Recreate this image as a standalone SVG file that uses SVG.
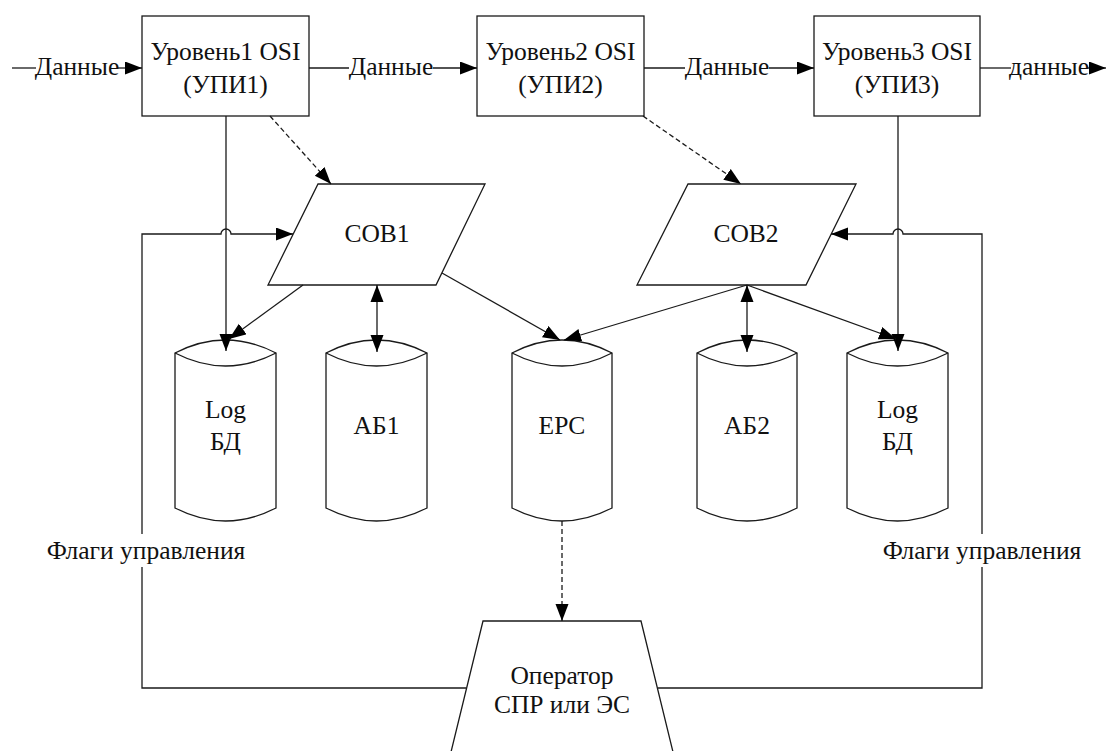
<svg xmlns="http://www.w3.org/2000/svg" width="1108" height="751" viewBox="0 0 1108 751">
<style>
  .shape { fill: #ffffff; stroke: #1a1a1a; stroke-width: 1.3; }
  .ln { fill: none; stroke: #1a1a1a; stroke-width: 1.3; }
  .dash { stroke-dasharray: 5 3; }
  .t { font-family: "Liberation Serif", "DejaVu Serif", serif; font-size: 25.5px; fill: #111; text-anchor: middle; }
</style>
<defs>
  <marker id="arr" markerUnits="userSpaceOnUse" markerWidth="18" markerHeight="14" refX="17" refY="6.5" orient="auto">
    <path d="M0,0 L17,6.5 L0,13 z" fill="#000"/>
  </marker>
  <marker id="arrS" markerUnits="userSpaceOnUse" markerWidth="18" markerHeight="14" refX="0" refY="6.5" orient="auto">
    <path d="M17,0 L0,6.5 L17,13 z" fill="#000"/>
  </marker>
</defs>

<g id="box1">
  <rect class="shape" x="142" y="16" width="167" height="100"/>
  <text class="t" x="225.5" y="60">Уровень1 OSI</text>
  <text class="t" x="225.5" y="93">(УПИ1)</text>
</g>
<g id="box2">
  <rect class="shape" x="477" y="16" width="167" height="100"/>
  <text class="t" x="560.5" y="60">Уровень2 OSI</text>
  <text class="t" x="560.5" y="93">(УПИ2)</text>
</g>
<g id="box3">
  <rect class="shape" x="814" y="16" width="166" height="100"/>
  <text class="t" x="897" y="60">Уровень3 OSI</text>
  <text class="t" x="897" y="93">(УПИ3)</text>
</g>

<g id="data-labels">
  <text class="t" x="77" y="75">Данные</text>
  <text class="t" x="391" y="75">Данные</text>
  <text class="t" x="727" y="75">Данные</text>
  <text class="t" x="1049" y="75">данные</text>
</g>

<g id="cob1">
  <path class="shape" d="M318,184 H485 L436,285 H268 Z"/>
  <text class="t" x="377" y="242">COB1</text>
</g>
<g id="cob2">
  <path class="shape" d="M688,184 H856 L806,285 H637 Z"/>
  <text class="t" x="746" y="242">COB2</text>
</g>

<g id="db-log1">
  <path class="shape" d="M175,353 Q225.5,327 276,353 V508 Q225.5,534 175,508 Z"/>
  <path class="ln" d="M175,353 Q225.5,379 276,353"/>
  <text class="t" x="225.5" y="418">Log</text>
  <text class="t" x="225.5" y="450">БД</text>
</g>
<g id="db-ab1">
  <path class="shape" d="M326,353 Q376.5,327 427,353 V508 Q376.5,534 326,508 Z"/>
  <path class="ln" d="M326,353 Q376.5,379 427,353"/>
  <text class="t" x="376.5" y="434">АБ1</text>
</g>
<g id="db-epc">
  <path class="shape" d="M512,353 Q562,327 612,353 V508 Q562,534 512,508 Z"/>
  <path class="ln" d="M512,353 Q562,379 612,353"/>
  <text class="t" x="562" y="434">EPC</text>
</g>
<g id="db-ab2">
  <path class="shape" d="M697,353 Q747,327 797,353 V508 Q747,534 697,508 Z"/>
  <path class="ln" d="M697,353 Q747,379 797,353"/>
  <text class="t" x="747" y="434">АБ2</text>
</g>
<g id="db-log2">
  <path class="shape" d="M847,353 Q897.5,327 948,353 V508 Q897.5,534 847,508 Z"/>
  <path class="ln" d="M847,353 Q897.5,379 948,353"/>
  <text class="t" x="897.5" y="418">Log</text>
  <text class="t" x="897.5" y="450">БД</text>
</g>

<g id="flag-labels">
  <text class="t" x="146" y="559">Флаги управления</text>
  <text class="t" x="982" y="559">Флаги управления</text>
</g>

<g id="operator">
  <path class="shape" d="M483,621 H641 L673,752 H451 Z"/>
  <text class="t" x="562" y="684">Оператор</text>
  <text class="t" x="562" y="713">СПР или ЭС</text>
</g>

<g id="connectors">
  <path class="ln" d="M12,68 H36"/>
  <path class="ln" d="M118,68 H142" marker-end="url(#arr)"/>
  <path class="ln" d="M309,68 H349"/>
  <path class="ln" d="M433,68 H477" marker-end="url(#arr)"/>
  <path class="ln" d="M644,68 H685"/>
  <path class="ln" d="M769,68 H814" marker-end="url(#arr)"/>
  <path class="ln" d="M980,68 H1011"/>
  <path class="ln" d="M1087,68 H1106" marker-end="url(#arr)"/>
  <path class="ln dash" d="M270,116 L331,184" marker-end="url(#arr)"/>
  <path class="ln dash" d="M643,116 L741,184" marker-end="url(#arr)"/>
  <path class="ln" d="M226,116 V351" marker-end="url(#arr)"/>
  <path class="ln" d="M898,116 V351" marker-end="url(#arr)"/>
  <path class="ln" d="M303,285 L229,339" marker-end="url(#arr)"/>
  <path class="ln" d="M377,285 V352" marker-start="url(#arrS)" marker-end="url(#arr)"/>
  <path class="ln" d="M442,273 L560,340" marker-end="url(#arr)"/>
  <path class="ln" d="M747,285 L564,340" marker-end="url(#arr)"/>
  <path class="ln" d="M747,285 V352" marker-start="url(#arrS)" marker-end="url(#arr)"/>
  <path class="ln" d="M747,285 L896,339" marker-end="url(#arr)"/>
  <path class="ln dash" d="M562,521 V621" marker-end="url(#arr)"/>
  <path class="ln" d="M466,688 H142 V567"/>
  <path class="ln" d="M142,534 V234 H221 A5,5 0 0 1 231,234 H293" marker-end="url(#arr)"/>
  <path class="ln" d="M658,688 H982 V567"/>
  <path class="ln" d="M982,534 V234 H903 A5,5 0 0 0 893,234 H831" marker-end="url(#arr)"/>
</g>
</svg>
